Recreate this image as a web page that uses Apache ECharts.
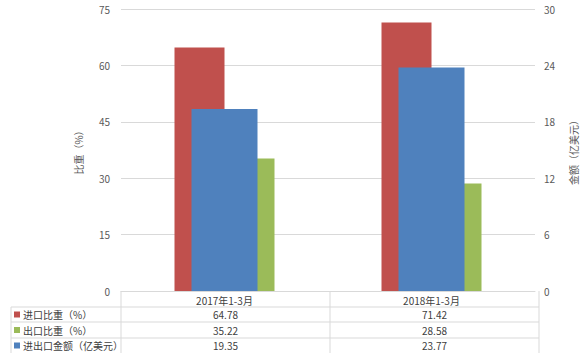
<!DOCTYPE html>
<html>
<head>
<meta charset="utf-8">
<script src="https://cdn.jsdelivr.net/npm/echarts@6/dist/echarts.min.js"></script>
<style>
  html, body { margin: 0; padding: 0; background: #fff; }
  #chart { width: 586px; height: 353px; }
</style>
</head>
<body>
<div id="chart"></div>
<script>
const categories = ['2017年1-3月', '2018年1-3月']
const importShare = [64.78, 71.42]
const exportShare = [35.22, 28.58]
const tradeAmount = [19.35, 23.77]
const seriesNames = ['进口比重（%）', '出口比重（%）', '进出口金额（亿美元）']
const seriesColors = ['#C0504D', '#9BBB59', '#4F81BD']

const FONT = '"Noto Sans CJK SC", "Noto Sans", sans-serif'
const TXT = '#404040'
const LINE = '#d9d9d9'

const chart = echarts.init(document.getElementById('chart'), null, { renderer: 'svg' })

// table geometry (matches grid below)
const gl = 121, gr = 539, gb = 291
const tableLeft = 11
const rowLines = [307, 322, 338]
const rowBottom = 353
const midX = (gl + gr) / 2

const buildTable = () => {
  const els = []
  const line = (x1, y1, x2, y2) => els.push({
    type: 'line',
    shape: { x1, y1, x2, y2 },
    style: { stroke: LINE, lineWidth: 1 },
    silent: true
  })
  // vertical lines
  line(gl, gb, gl, rowBottom)
  line(midX, gb, midX, rowBottom)
  line(gr, gb, gr, rowBottom)
  line(tableLeft, rowLines[0], tableLeft, rowBottom)
  // horizontal lines
  rowLines.forEach(y => line(tableLeft, y, gr, y))

  const rowData = [importShare, exportShare, tradeAmount]
  const rowTops = [rowLines[0], rowLines[1], rowLines[2]]
  const rowBots = [rowLines[1], rowLines[2], rowBottom]
  rowData.forEach((vals, i) => {
    const cy = (rowTops[i] + rowBots[i]) / 2
    els.push({
      type: 'rect',
      shape: { x: 14, y: cy - 3, width: 6, height: 6 },
      style: { fill: seriesColors[i] },
      silent: true
    })
    els.push({
      type: 'text',
      x: 23, y: cy,
      style: { text: seriesNames[i], font: '10px ' + FONT, fill: TXT, align: 'left', verticalAlign: 'middle' },
      silent: true
    })
    vals.forEach((v, j) => {
      const cx = j === 0 ? (gl + midX) / 2 : (midX + gr) / 2
      els.push({
        type: 'text',
        x: cx, y: cy,
        style: { text: v.toFixed(2), font: '10px ' + FONT, fill: TXT, align: 'center', verticalAlign: 'middle' },
        silent: true
      })
    })
  })
  return els
}

const option = {
  animation: false,
  textStyle: { fontFamily: FONT },
  grid: { left: gl, right: 586 - gr, top: 9, bottom: 353 - gb },
  xAxis: [
    {
      type: 'category',
      data: categories,
      axisTick: { show: false },
      axisLine: { show: true, lineStyle: { color: LINE } },
      axisLabel: { color: TXT, fontSize: 10, margin: 4, fontFamily: FONT }
    },
    {
      type: 'category',
      data: categories,
      show: false,
      position: 'bottom'
    }
  ],
  yAxis: [
    {
      type: 'value',
      min: 0, max: 75, interval: 15,
      name: '比重（%）',
      nameLocation: 'middle',
      nameRotate: 90,
      nameGap: 38,
      nameTextStyle: { color: '#595959', fontSize: 10, fontFamily: FONT },
      axisLine: { show: false },
      axisTick: { show: false },
      axisLabel: { color: '#595959', fontSize: 10, margin: 11 },
      splitLine: { lineStyle: { color: LINE } }
    },
    {
      type: 'value',
      min: 0, max: 30, interval: 6,
      name: '金额（亿美元）',
      nameLocation: 'middle',
      nameRotate: 90,
      nameGap: 33,
      nameTextStyle: { color: '#595959', fontSize: 10, fontFamily: FONT },
      axisLine: { show: false },
      axisTick: { show: false },
      axisLabel: { color: '#595959', fontSize: 10, margin: 9 },
      splitLine: { show: false }
    }
  ],
  series: [
    {
      name: seriesNames[0],
      type: 'bar',
      xAxisIndex: 0, yAxisIndex: 0,
      data: importShare,
      barWidth: 50,
      barGap: '0%',
      itemStyle: { color: seriesColors[0] }
    },
    {
      name: seriesNames[1],
      type: 'bar',
      xAxisIndex: 0, yAxisIndex: 0,
      data: exportShare,
      barWidth: 50,
      barGap: '0%',
      itemStyle: { color: seriesColors[1] }
    },
    {
      name: seriesNames[2],
      type: 'bar',
      xAxisIndex: 1, yAxisIndex: 1,
      data: tradeAmount,
      barWidth: 66,
      z: 3,
      itemStyle: { color: seriesColors[2] }
    }
  ],
  graphic: buildTable()
}

chart.setOption(option)
</script>
</body>
</html>
